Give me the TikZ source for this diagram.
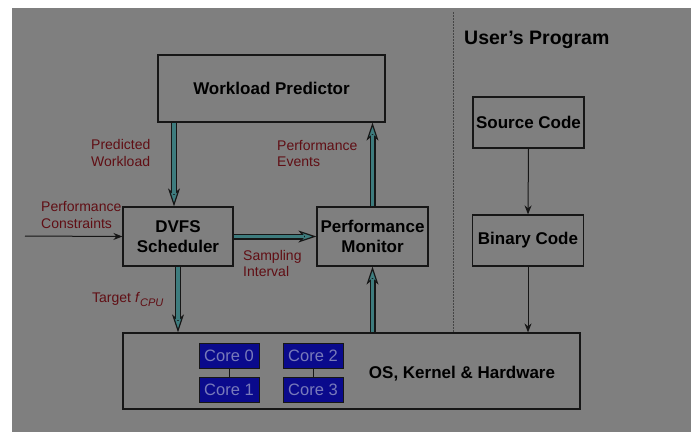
\documentclass[tikz,border=0pt]{standalone}
\usepackage{fontspec}
\setmainfont{Liberation Sans}
\usetikzlibrary{arrows.meta}

\definecolor{bggray}{RGB}{127,127,127}
\definecolor{edge}{RGB}{22,22,22}
\definecolor{pipeteal}{RGB}{62,124,126}
\definecolor{labelred}{RGB}{96,14,20}
\definecolor{corefill}{RGB}{10,10,140}
\definecolor{coretext}{RGB}{120,122,186}

\tikzset{
  block/.style={draw=edge, line width=1.2pt, inner sep=0pt, align=center,
    font=\fontsize{17}{19.5}\selectfont\bfseries},
  boldlabel/.style={inner sep=0pt, align=center,
    font=\fontsize{17}{19.5}\selectfont\bfseries},
  core/.style={draw=edge, fill=corefill, line width=1pt, minimum width=60pt,
    minimum height=25pt, inner sep=0pt, text=coretext,
    font=\fontsize{16.5}{19}\selectfont},
  note/.style={text=labelred, align=left, inner sep=0pt,
    font=\fontsize{14}{16.5}\selectfont},
  pipe/.style={line width=6pt, draw=edge,
    -{Stealth[length=18pt,width=12pt,inset=5pt,line width=1.2pt,fill=pipeteal]},
    postaction={draw=pipeteal, line width=3.2pt, -, shorten >=12pt}},
  flow/.style={line width=1pt, draw=edge, -{Stealth[length=9pt,width=7pt]}},
  corelink/.style={line width=1pt, draw=edge},
  divider/.style={line width=0.6pt, draw=edge!80, dash pattern=on 2pt off 1pt},
}

\begin{document}
\begin{tikzpicture}[x=1pt,y=-1pt]
\useasboundingbox (0,0) rectangle (691,432);
\fill[bggray] (12,8) rectangle (691,432);

% main blocks
\node[block, minimum width=227pt, minimum height=67pt] (wp) at (271.5,88.5) {Workload Predictor};
\node[block, minimum width=110pt, minimum height=59pt] (dvfs) at (178,236.5) {DVFS\\Scheduler};
\node[block, minimum width=111pt, minimum height=59pt] (pm) at (372.5,236.5) {Performance\\Monitor};
\node[block, minimum width=111pt, minimum height=51pt] (src) at (528.5,122.5) {Source Code};
\node[block, minimum width=111pt, minimum height=51pt] (bin) at (528,240.5) {Binary Code};
\node[block, minimum width=457pt, minimum height=76pt] (os) at (351.5,371) {};
\node[boldlabel] (oslbl) at (462,374) {OS, Kernel \& Hardware};
\node[boldlabel, anchor=west, font=\fontsize{19.5}{23}\selectfont\bfseries] (user) at (464,40) {User's Program};

% cores
\node[core] (c0) at (229,356) {Core 0};
\node[core] (c1) at (229,389.5) {Core 1};
\node[core] (c2) at (313,356) {Core 2};
\node[core] (c3) at (313,389.5) {Core 3};
\draw[corelink] (c0.south) -- (c1.north);
\draw[corelink] (c2.south) -- (c3.north);

% divider between system and user program
\coordinate (dtop) at (453,12);
\draw[divider] (dtop) -- (os.north -| dtop);

% data paths
\coordinate (pwx) at (174,0);
\draw[pipe] (wp.south -| pwx) -- (dvfs.north -| pwx);
\draw[pipe] (pm.north) -- (wp.south -| pm.north);
\draw[pipe] (dvfs.east) -- (pm.west);
\draw[pipe] (dvfs.south) -- (os.north -| dvfs.south);
\draw[pipe] (os.north -| pm.south) -- (pm.south);

\coordinate (pcin) at (25,236);
\draw[flow] (pcin) -- (dvfs.west);
\draw[flow] (src.south) -- (bin.north);
\draw[flow] (bin.south) -- (os.north -| bin.south);

% annotations
\node[note, anchor=west] (lpw) at (91,153) {Predicted\\Workload};
\node[note, anchor=west] (lpe) at (277,153.5) {Performance\\Events};
\node[note, anchor=west] (lpc) at (41,215) {Performance\\Constraints};
\node[note, anchor=west] (lsi) at (243,263.5) {Sampling\\Interval};
\node[note, anchor=base west] (ltg) at (92,302.5) {Target \textit{f}\raisebox{-4pt}{\fontsize{11}{11}\selectfont\itshape CPU}};
\end{tikzpicture}
\end{document}
